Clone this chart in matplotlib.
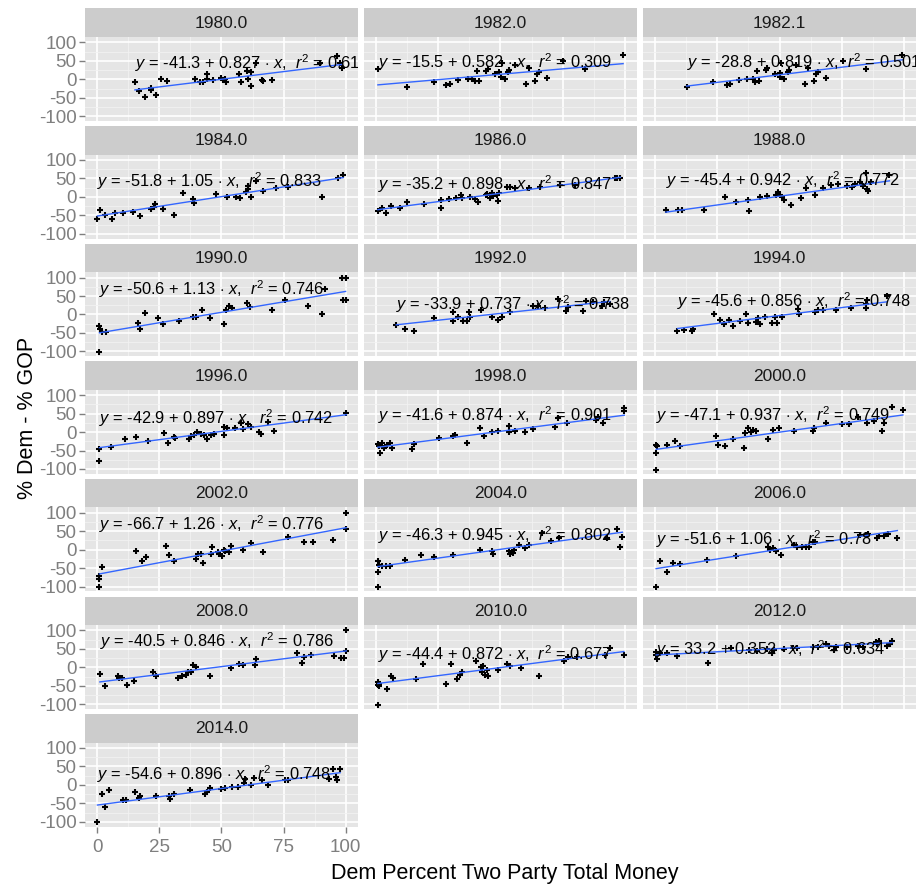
import matplotlib
matplotlib.use("Agg")
import matplotlib.pyplot as plt

plt.rcParams['font.family'] = ['Liberation Sans', 'DejaVu Sans']
plt.rcParams['mathtext.fontset'] = 'custom'
plt.rcParams['mathtext.rm'] = 'Liberation Sans'
plt.rcParams['mathtext.it'] = 'Liberation Sans:italic'
plt.rcParams['axes.unicode_minus'] = False

# facet labels and fitted coefficients shown in each panel
years = ['1980.0', '1982.0', '1982.1', '1984.0', '1986.0', '1988.0', '1990.0',
         '1992.0', '1994.0', '1996.0', '1998.0', '2000.0', '2002.0', '2004.0',
         '2006.0', '2008.0', '2010.0', '2012.0', '2014.0']
intercepts = ['-41.3', '-15.5', '-28.8', '-51.8', '-35.2', '-45.4', '-50.6',
              '-33.9', '-45.6', '-42.9', '-41.6', '-47.1', '-66.7', '-46.3',
              '-51.6', '-40.5', '-44.4', '33.2', '-54.6']
slopes = ['0.827', '0.582', '0.819', '1.05', '0.898', '0.942', '1.13', '0.737',
          '0.856', '0.897', '0.874', '0.937', '1.26', '0.945', '1.06', '0.846',
          '0.872', '0.352', '0.896']
r2 = ['0.613', '0.309', '0.501', '0.833', '0.847', '0.772', '0.746', '0.738',
      '0.748', '0.742', '0.901', '0.749', '0.776', '0.802', '0.78', '0.786',
      '0.677', '0.634', '0.748']

# points (Dem % of two-party money, Dem % - GOP %)
x_1980 = [15.1, 16.8, 19, 21.4, 21.6, 23.7, 25.8, 28.2, 39.5, 41.3, 42.6, 44.1, 44.2, 46.6, 49.6, 50.5,
          51.5, 52, 57.1, 57.9, 60.3, 60.8, 62, 62, 64, 66.4, 66.6, 70.4, 89.5, 96.6, 97.6, 98.4]
y_1980 = [-7, -31, -47, -23, -30, -43, 0, -4, 0, -8, -8, 14, 2, -1, 3, -3,
          0, -8, 15, -8, 23, 1, 21, -19, 44, -2, -4, -1, 44, 63, 43, 30]
x_1982 = [0.6, 12.5, 23.4, 28.2, 29.5, 33, 37, 38.5, 39.8, 40.4, 41.4, 44.2, 44.8, 47.9, 49.5, 50.3,
          50.5, 51.9, 53.1, 53.5, 56, 60.3, 61.6, 63.7, 64.6, 65.5, 68.8, 75.3, 84.1, 99.4]
y_1982 = [29, -21, -8, -16, -13, -1, 1, 0, -6, 23, -4, 23, 29, 15, 19, 6,
          45, 0, 20, 26, 40, -12, 30, -5, 15, 19, 4, 50, 29, 66]
x_1982b = [12.6, 23.4, 28.7, 29.9, 33.5, 37, 39.3, 40, 41.7, 40.9, 44.6, 45, 48.3, 50, 50.4, 50.8,
           51.9, 53.5, 53.7, 56.6, 60.3, 61.6, 63.8, 64.6, 65.5, 68.7, 75.7, 84.7, 99.5]
y_1982b = [-21, -7, -16, -13, -1, 0, 0, -7, -4, 23, 24, 30, 15, 18, 6, 45,
           0, 20, 26, 40, -12, 30, -5, 15, 20, 4, 50, 29, 65]
x_1984 = [0, 1.2, 3, 5.9, 7, 10.5, 14.5, 17.3, 21.4, 22.8, 23.1, 26.5, 31, 34.4, 38.6, 39,
          47.6, 52.3, 55.8, 57.3, 59.9, 60.8, 60.8, 62, 63.7, 66.8, 72, 76.6, 90.3, 97, 99]
y_1984 = [-61, -36, -49, -61, -45, -45, -41, -53, -34, -27, -18, -34, -48, 10, -5, -17,
          9, 1, 1, -3, 13, 22, 30, 1, 44, 16, 23, 28, 1, 51, 60]
x_1986 = [0.6, 2.3, 4, 5.7, 9.7, 12.5, 19.3, 26, 26.2, 29.4, 32, 34.1, 34.5, 37.7, 39.8, 40.9, 44.1,
          44.7, 45.8, 46.4, 46.9, 48.6, 49, 49.2, 52.6, 53.9, 55.8, 61.4, 66, 74, 80, 96, 97, 98.3]
y_1986 = [-38, -29, -45, -25, -30, -15, -18, -9, -29, -5, -3, 5, -2, 0, -5, -14, 5,
          9, -3, 11, 2, 5, -11, 11, 27, 27, 24, 25, 27, 32, 32, 50, 50, 50]
x_1988 = [4.2, 9.3, 10.6, 19.6, 28.1, 32.4, 37.3, 37.7, 42, 44.8, 48.4, 49.5, 50, 51.2, 52, 54.8,
          58.7, 60.8, 64.4, 67.7, 70.9, 73.5, 77.3, 79.4, 80.5, 82.6, 83.7, 84.7, 85.3, 85.8, 86.8, 94.3]
y_1988 = [-36, -35, -35, -35, 0, -15, -9, -38, 0, 3, 5, 14, 6, 0, -9, -23,
          -3, 23, 5, 23, 32, 34, 30, 27, 34, 41, 30, 66, 20, 15, 41, 59]
x_1990 = [0.8, 1, 0.8, 2, 3.5, 16.4, 17, 19.1, 24.3, 26.4, 33, 38.4, 39.9, 42, 45.2, 51, 52, 53.1,
          54.2, 60.2, 61.5, 70.2, 75.6, 84.7, 90.5, 91.6, 98.6, 100, 99, 100]
y_1990 = [-30, -38, -101, -48, -48, -23, -38, 3, -10, -26, -17, -6, -8, 11, -10, -26, 11, 22,
          17, 31, 20, 12, 40, 24, 2, 68, 99, 99, 38, 38]
x_1992 = [8, 11.7, 15.3, 23.2, 30.9, 30.9, 33, 34.7, 36.6, 37.3, 37.9, 42, 46.5, 49, 50.8, 54,
          63, 65.1, 67.9, 73, 76.2, 77.3, 83.3, 84.4, 87.1, 90.7, 91.8, 94]
y_1992 = [-28, -38, -45, -10, 6, -19, -8, -18, -18, 8, -6, 11, -6, -15, -8, 8,
          22, 24, 18, 41, 9, 20, 9, 36, 35, 24, 35, 29]
x_1994 = [8.9, 11.7, 14.9, 15.3, 23.8, 26, 27.7, 29.8, 31.3, 34.1, 36.7, 37.3, 40.5, 41.4, 42, 44.2,
          47, 48, 49, 51.2, 57.6, 58, 64.4, 65.4, 67.6, 72.9, 78.9, 84.7, 85.3, 84.7, 93.3]
y_1994 = [-44, -41, -44, -39, 2, -14, -26, -15, -30, -19, 2, -24, -21, -10, -26, -8,
          -23, -8, -23, -8, 15, 2, 8, 12, 11, 11, 17, 29, 38, 17, 50]
x_1996 = [0.8, 0.8, 5.3, 11, 15.7, 20.2, 27, 28.5, 30.9, 31.3, 37.1, 37.7, 38.8, 40.3, 41.6, 43.1,
          44.1, 45.6, 46.9, 51, 51.2, 52.3, 55.5, 58, 58.5, 60.8, 61.7, 65, 66, 68.7, 71.3, 100.3]
y_1996 = [-45, -78, -40, -18, -13, -24, -2, -29, -13, -15, -18, -11, -7, 1, -6, -8,
          -20, -8, -6, 14, -7, 12, 12, 25, 7, 22, 14, 1, -6, 28, 3, 53]
x_1998 = [0.6, 1.2, 1.4, 2.1, 3.1, 4.2, 5.3, 6.3, 14.2, 15.1, 25.1, 31, 31.5, 36.7, 41.6, 43.3,
          46.5, 49, 53.3, 53.3, 55.9, 59.8, 63, 72, 73.2, 76.9, 88.6, 89.2, 91.4, 99.9, 99.9]
y_1998 = [-31, -38, -58, -29, -43, -36, -29, -43, -45, -33, -15, -10, -7, -29, 10, -10,
          1, 2, 16, -1, 2, -1, 7, 14, 37, 25, 32, 40, 25, 65, 56]
x_2000 = [0.3, 0.8, 0.3, 0.3, 4.6, 7.8, 10, 24.5, 25.4, 28.1, 31.3, 35.6, 36, 37.3, 38.4, 39.2, 40.5,
          45.2, 47.3, 49.9, 55.9, 63.4, 64, 68.7, 75.1, 77.9, 81.5, 85.3, 87.9, 91.1, 92.2, 95.4, 99.7]
y_2000 = [-36, -38, -56, -102, -36, -25, -38, -10, -36, -38, -18, -43, -3, 10, -1, 5, 2,
          -18, 5, 10, 3, 2, 10, 25, 22, 23, 41, 25, 30, 2, 25, 67, 60]
x_2002 = [0.8, 0.8, 0.8, 2, 15.7, 17.9, 19.6, 27.7, 28.8, 30.9, 39.9, 40.5, 41.6, 42.4, 46.3, 45.8,
          48.4, 49, 50.1, 51, 51.6, 53.1, 53.7, 58.5, 61.7, 66.6, 76.6, 83.3, 86.9, 94.8, 100.3, 100.3]
y_2002 = [-70, -80, -102, -48, -4, -32, -20, 10, -15, -32, -24, -12, -12, -36, 6, -11,
          -6, -13, -18, -1, -4, -7, 11, -1, 17, -6, 33, 22, 22, 26, 99, 57]
x_2004 = [0.6, 1, 0.6, 0.6, 2.1, 3.8, 5.3, 11.7, 18.1, 23.4, 30.9, 41.6, 46.5, 46.9, 53.3, 54,
          55, 55.5, 57.6, 59.8, 61.4, 66.6, 70.4, 73.6, 92.8, 97, 98.1, 99.1]
y_2004 = [-32, -42, -60, -102, -44, -44, -44, -28, -14, -20, -14, 0, -4, -12, -4, -12,
          -8, -2, 12, 4, 12, 46, 24, 32, 32, 56, 8, 34]
x_2006 = [0.3, 2, 4.6, 7.2, 10, 20.6, 32.4, 45.2, 46.3, 47.3, 48.4, 50.5, 55.9, 57, 59.1, 60.8,
          61.8, 63.4, 64.4, 82.6, 84.7, 85.8, 89.4, 90.1, 92.2, 93.9, 97.5]
y_2006 = [-100, -32, -60, -36, -40, -28, -16, 6, -2, 4, -4, -14, 14, 8, 6, 8,
          6, 22, 22, 40, 40, 42, 32, 38, 38, 42, 32]
x_2008 = [1, 2.9, 8.2, 8.9, 10, 12.1, 14.9, 22.4, 23.8, 32.4, 34.1, 35.6, 36.7, 37.7, 38.4, 39.9,
          45.2, 53.8, 57, 58.5, 63.4, 63.8, 80.5, 82.6, 83.3, 86.2, 95.4, 98.2, 99.3, 100.3, 100.3]
y_2008 = [-18, -52, -24, -28, -30, -48, -38, -14, -24, -30, -24, -20, -14, -12, 6, 2,
          -24, -2, 10, 6, 6, 22, 40, 12, 28, 32, 30, 26, 26, 44, 100]
x_2010 = [0.6, 0.6, 0.6, 1, 1, 4.2, 5.7, 6.8, 16, 18.8, 28.2, 29.9, 32.6, 33.7, 34.6, 40.1, 42.3,
          42.7, 43.1, 43.8, 44.4, 44.9, 49, 52.6, 53.7, 58.2, 65.6, 75.7, 77.2, 81, 92.2, 94.3, 99.7]
y_2010 = [-102, -40, -48, -44, -52, -58, -24, -30, -32, 10, -46, 10, -32, -20, -14, 18, 0,
          -14, 4, -20, -8, -24, -8, 10, 4, -2, -24, 18, 28, 28, 32, 52, 32]
x_2012 = [0.3, 0.3, 0.8, 2, 4.6, 8.5, 21.1, 30.3, 37.8, 41, 44.8, 47, 47.8, 51.7, 55.6, 57,
          63.4, 65.5, 68.7, 69.8, 72, 72.6, 77.3, 81.5, 83.7, 89, 89.4, 90.1, 93.3, 94.4, 95.4]
y_2012 = [42, 34, 22, 38, 40, 30, 12, 52, 48, 44, 50, 40, 48, 50, 52, 52,
          54, 56, 64, 58, 48, 56, 54, 58, 54, 68, 64, 70, 58, 64, 70]
x_2014 = [0, 1.7, 3, 4.7, 10.3, 11.7, 15.3, 16.7, 17.3, 23.7, 28.8, 29.4, 31, 37.4, 43.5, 44.2, 45.3,
          49.9, 51.3, 54.3, 56.5, 59, 59.3, 62, 63, 66.3, 68.8, 75.4, 76.7, 93.3, 95, 96.2, 96.6, 97.8]
y_2014 = [-100, -24, -61, -15, -42, -42, -19, -35, -30, -31, -31, -38, -24, -15, -26, -18, -8,
          -11, -9, -6, -6, 5, 16, -1, 19, 12, 0, 12, 12, 15, 42, 21, 14, 43]

xs = [x_1980, x_1982, x_1982b, x_1984, x_1986, x_1988, x_1990, x_1992, x_1994, x_1996,
      x_1998, x_2000, x_2002, x_2004, x_2006, x_2008, x_2010, x_2012, x_2014]
ys = [y_1980, y_1982, y_1982b, y_1984, y_1986, y_1988, y_1990, y_1992, y_1994, y_1996,
      y_1998, y_2000, y_2002, y_2004, y_2006, y_2008, y_2010, y_2012, y_2014]

W, H = 916, 885
fig = plt.figure(figsize=(W / 100, H / 100), dpi=100)

col_left = [85, 364, 643]
pw = 273
strip_h = 28.5
ph = 84
pitch = 117.6
first_top = 8.5

for i, year in enumerate(years):
    r, c = divmod(i, 3)
    top = first_top + pitch * r
    # strip
    sax = fig.add_axes([col_left[c] / W, 1 - (top + strip_h) / H, pw / W, strip_h / H])
    sax.set_facecolor('#CCCCCC')
    sax.set_xticks([])
    sax.set_yticks([])
    for s in sax.spines.values():
        s.set_visible(False)
    sax.text(0.5, 0.48, year, ha='center', va='center', fontsize=12.5, color='#1A1A1A',
             transform=sax.transAxes)

    ax = fig.add_axes([col_left[c] / W, 1 - (top + strip_h + ph) / H, pw / W, ph / H])
    ax.set_facecolor('#E5E5E5')
    for s in ax.spines.values():
        s.set_visible(False)
    ax.set_xlim(-5, 105)
    ax.set_ylim(-113, 114.5)
    ax.set_xticks([0, 25, 50, 75, 100])
    ax.set_xticks([12.5, 37.5, 62.5, 87.5], minor=True)
    ax.set_yticks([-100, -50, 0, 50, 100])
    ax.set_yticks([-75, -25, 25, 75], minor=True)
    ax.grid(which='minor', color='#F2F2F2', lw=0.6)
    ax.grid(which='major', color='white', lw=1.2)
    ax.set_axisbelow(True)
    ax.tick_params(which='minor', length=0)
    ax.tick_params(which='major', length=4, color='#7F7F7F', width=1,
                   labelsize=13.5, labelcolor='#7F7F7F', pad=2)
    ax.tick_params(axis='x', pad=5)
    if c == 0:
        ax.set_yticklabels(['-100', '-50', '0', '50', '100'])
    else:
        ax.tick_params(axis='y', length=0, labelleft=False)
    if i == len(years) - 1:
        ax.set_xticklabels(['0', '25', '50', '75', '100'])
    else:
        ax.tick_params(axis='x', length=0, labelbottom=False)

    x, y = xs[i], ys[i]
    ax.plot(x, y, ls='none', marker='+', ms=4.5, mew=1.5, color='black', zorder=3)
    a, b = float(intercepts[i]), float(slopes[i])
    x0, x1 = min(x), max(x)
    ax.plot([x0, x1], [a + b * x0, a + b * x1], color='#3366FF', lw=1.0, zorder=4)
    label = (f"$y$ = {intercepts[i]} + {slopes[i]} $\\cdot$ $x$,  $r^2$ = {r2[i]}")
    ax.text(x0, 0.7 * max(y), label, ha='left', va='center', fontsize=11.8,
            color='black', clip_on=True, zorder=5)

fig.text(28 / W, 1 - 418 / H, '% Dem - % GOP', rotation=90, ha='center', va='center',
         fontsize=15.5)
fig.text(505 / W, 1 - 873 / H, 'Dem Percent Two Party Total Money', ha='center',
         va='center', fontsize=15.5)

fig.savefig('out.png', dpi=100)
